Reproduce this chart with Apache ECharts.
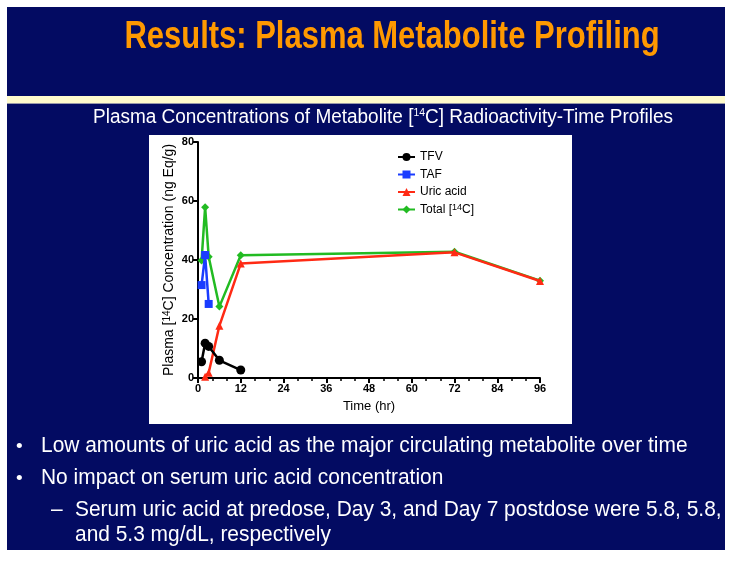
<!DOCTYPE html>
<html>
<head>
<meta charset="utf-8">
<script src="https://cdn.jsdelivr.net/npm/echarts@6/dist/echarts.min.js"></script>
<style>
html,body{margin:0;padding:0;background:#fff;}
#chart{width:739px;height:561px;}
</style>
</head>
<body>
<div id="chart"></div>
<script>
// ---- data ----
const titleText = 'Results: Plasma Metabolite Profiling';
const subtitleParts = ['Plasma Concentrations of Metabolite [', '14', 'C] Radioactivity-Time Profiles'];
const bullets = [
  'Low amounts of uric acid as the major circulating metabolite over time',
  'No impact on serum uric acid concentration'
];
const subBullet = ['Serum uric acid at predose, Day 3, and Day 7 postdose were 5.8, 5.8,', 'and 5.3 mg/dL, respectively'];

const seriesNames = ['TFV', 'TAF', 'Uric acid', 'Total [14C]'];
const tfvTime = [1, 2, 3, 6, 12];
const tfvConc = [5.5, 11.8, 10.7, 6.0, 2.7];
const tafTime = [1, 2, 3];
const tafConc = [31.5, 41.7, 25.1];
const uricTime = [2, 3, 6, 12, 72, 96];
const uricConc = [0.4, 1.8, 17.7, 38.8, 42.6, 32.9];
const totalTime = [1, 2, 3, 6, 12, 72, 96];
const totalConc = [39.8, 57.9, 41.1, 24.2, 41.6, 42.8, 33.0];

const xTicks = [0, 12, 24, 36, 48, 60, 72, 84, 96];
const yTicks = [0, 20, 40, 60, 80];

function pairs(t, v) { return t.map((x, i) => [x, v[i]]); }

const chart = echarts.init(document.getElementById('chart'), null, {renderer: 'canvas'});
const navy = '#030b62';
const arial = '"Liberation Sans", Arial, sans-serif';

const supRich = {
  sup: {fontSize: 9, verticalAlign: 'top', lineHeight: 10, padding: [0, 0, 6, 0], fontFamily: arial, color: '#000'}
};

function slideText(x, y, text, size, sx) {
  return {type: 'text', x: x, y: y, z: 10, scaleX: sx,
    style: {text: text, fill: '#fff', font: size + 'px ' + arial, verticalAlign: 'middle'}};
}

const option = {
  backgroundColor: '#ffffff',
  animation: false,
  graphic: [
    {type: 'rect', z: -10, shape: {x: 7, y: 7, width: 718, height: 543}, style: {fill: navy}},
    {type: 'rect', z: -9, shape: {x: 7, y: 96, width: 718, height: 7}, style: {fill: '#fffbcc'}},
    {type: 'rect', z: -9, shape: {x: 7, y: 103, width: 718, height: 1}, style: {fill: '#9a9aa8'}},
    {type: 'rect', z: -8, shape: {x: 149, y: 135, width: 423, height: 289}, style: {fill: '#ffffff'}},
    {type: 'text', x: 392, y: 38, z: 10, scaleX: 0.815, style: {
      text: titleText, fill: '#ff9900', font: 'bold 38px ' + arial, align: 'center', verticalAlign: 'middle'}},
    {type: 'text', x: 383, y: 117, z: 10, scaleX: 0.948, style: {
      text: subtitleParts[0] + '{s|' + subtitleParts[1] + '}' + subtitleParts[2],
      fill: '#ffffff', font: '20px ' + arial, align: 'center', verticalAlign: 'middle',
      rich: {s: {fontSize: 11, fill: '#ffffff', fontFamily: arial, verticalAlign: 'top', padding: [0, 0, 8, 0]}}}},
    slideText(16, 447, '•', 19, 1),
    slideText(41, 446, bullets[0], 22, 0.951),
    slideText(16, 479, '•', 19, 1),
    slideText(41, 478, bullets[1], 22, 0.951),
    slideText(51, 510, '–', 22, 0.951),
    slideText(75, 510, subBullet[0], 22, 0.951),
    slideText(75, 535, subBullet[1], 22, 0.951)
  ],
  legend: {
    orient: 'vertical', left: 397, top: 151, padding: 0, itemGap: 5.5, itemWidth: 17, itemHeight: 10,
    data: seriesNames,
    formatter: function (n) { return n === 'Total [14C]' ? 'Total [{sup|14}C]' : n; },
    textStyle: {fontFamily: arial, fontSize: 12, color: '#000', rich: supRich}
  },
  grid: {left: 198, right: 199, top: 142, bottom: 183, containLabel: false},
  xAxis: {
    type: 'value', min: 0, max: 96, interval: 12,
    name: 'Time (hr)', nameLocation: 'middle', nameGap: 22,
    nameTextStyle: {fontFamily: arial, fontSize: 13, color: '#000'},
    axisLine: {show: true, lineStyle: {color: '#000', width: 2}},
    axisTick: {show: true, length: 5, lineStyle: {color: '#000', width: 2}},
    minorTick: {show: true, splitNumber: 3, length: 3, lineStyle: {color: '#000', width: 1.5}},
    axisLabel: {fontFamily: arial, fontSize: 11, fontWeight: 'bold', color: '#000', margin: 5,
      formatter: v => xTicks.includes(v) ? String(v) : ''},
    splitLine: {show: false}
  },
  yAxis: {
    type: 'value', min: 0, max: 80, interval: 20,
    name: 'Plasma [{sup|14}C] Concentration (ng Eq/g)', nameLocation: 'middle', nameGap: 22, nameRotate: 90,
    nameTextStyle: {fontFamily: arial, fontSize: 14, color: '#000', rich: {
      sup: {fontSize: 10, verticalAlign: 'top', lineHeight: 10, padding: [0, 0, 6, 0], fontFamily: arial, color: '#000'}}},
    axisLine: {show: true, lineStyle: {color: '#000', width: 2}},
    axisTick: {show: true, length: 5, lineStyle: {color: '#000', width: 2}},
    axisLabel: {fontFamily: arial, fontSize: 11, fontWeight: 'bold', color: '#000', margin: 4,
      formatter: v => yTicks.includes(v) ? String(v) : ''},
    splitLine: {show: false}
  },
  series: [
    {name: seriesNames[0], type: 'line', z: 4, data: pairs(tfvTime, tfvConc), symbol: 'circle', symbolSize: 9,
      itemStyle: {color: '#000000'}, lineStyle: {color: '#000000', width: 2.5}},
    {name: seriesNames[1], type: 'line', z: 4, data: pairs(tafTime, tafConc), symbol: 'rect', symbolSize: 8,
      itemStyle: {color: '#1a3cff'}, lineStyle: {color: '#1a3cff', width: 2.5}},
    {name: seriesNames[2], type: 'line', z: 3, data: pairs(uricTime, uricConc), symbol: 'triangle', symbolSize: 8,
      itemStyle: {color: '#ff2a14'}, lineStyle: {color: '#ff2a14', width: 2.5}},
    {name: seriesNames[3], type: 'line', z: 2, data: pairs(totalTime, totalConc), symbol: 'diamond', symbolSize: 8,
      itemStyle: {color: '#22bb22'}, lineStyle: {color: '#22bb22', width: 2.5}}
  ]
};
chart.setOption(option);
</script>
</body>
</html>
